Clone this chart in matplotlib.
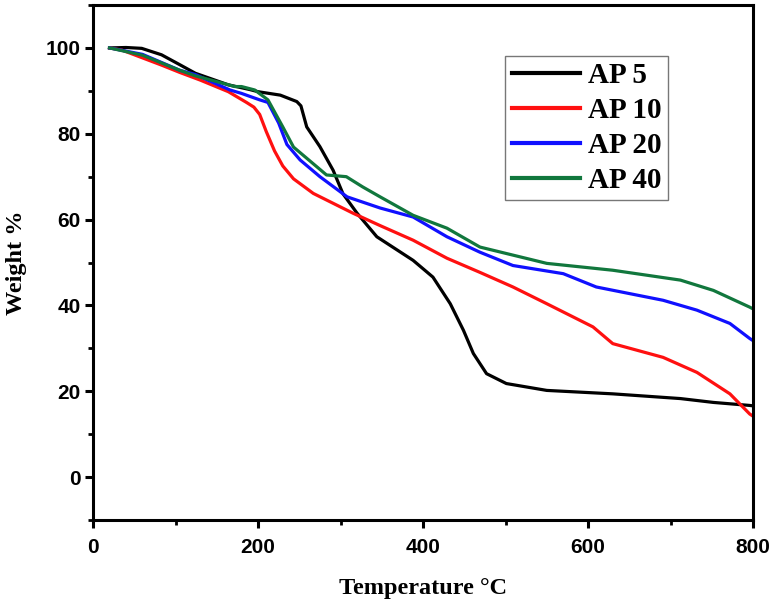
import matplotlib
matplotlib.use("Agg")
import matplotlib.pyplot as plt
from matplotlib.ticker import MultipleLocator

# ---- data ----
ap5_x = [20, 40, 59, 83, 106, 124, 164, 190, 200, 227, 247, 252, 259, 275, 291, 303, 320, 344,
         388, 412, 433, 449, 461, 477, 501, 550, 630, 712, 752, 796, 800]
ap5_y = [100, 100.1, 99.9, 98.4, 96.0, 94.1, 91.4, 90.3, 89.8, 89.0, 87.5, 86.5, 81.6, 77.0, 71.5, 66.0, 61.5, 56.0,
         50.5, 46.6, 40.4, 34.2, 28.8, 24.1, 21.8, 20.2, 19.4, 18.3, 17.4, 16.7, 16.6]

ap10_x = [20, 35, 83, 105, 130, 164, 186, 195, 202, 210, 220, 230, 243, 267, 315, 348, 388, 429,
          469, 509, 550, 606, 630, 691, 732, 772, 796, 800]
ap10_y = [100, 99.5, 96.0, 94.3, 92.5, 89.8, 87.3, 86.2, 84.5, 80.5, 76.0, 72.5, 69.5, 66.1, 61.5, 58.6, 55.2, 51.0,
          47.7, 44.3, 40.4, 35.0, 31.1, 27.9, 24.4, 19.4, 14.7, 14.2]

ap20_x = [20, 60, 105, 124, 166, 180, 202, 212, 225, 235, 251, 275, 308, 348, 388, 429, 469, 509,
          570, 610, 691, 732, 772, 796, 800]
ap20_y = [100, 98.5, 94.8, 93.8, 90.2, 89.4, 87.9, 87.3, 82.5, 77.5, 73.9, 70.0, 65.3, 62.7, 60.6, 56.0, 52.4, 49.3,
          47.4, 44.3, 41.2, 38.9, 35.8, 32.3, 31.8]

ap40_x = [20, 60, 105, 124, 172, 180, 196, 212, 230, 243, 283, 307, 327, 348, 388, 429, 469, 550,
          630, 712, 752, 796, 800]
ap40_y = [100, 98.3, 94.8, 93.5, 91.0, 91.0, 90.2, 87.9, 81.6, 76.9, 70.4, 70.0, 67.6, 65.3, 61.0, 58.0, 53.6, 49.8,
          48.2, 45.9, 43.5, 39.6, 39.2]

labels = ["AP 5", "AP 10", "AP 20", "AP 40"]
colors = ["#000000", "#ff1010", "#1010ff", "#11773d"]

x_ticks = [0, 200, 400, 600, 800]
y_ticks = [0, 20, 40, 60, 80, 100]

# ---- figure ----
fig = plt.figure(figsize=(7.74, 6.03), dpi=100)
ax = fig.add_axes([0.1202, 0.1376, 0.8527, 0.8541])

series = [(ap5_x, ap5_y), (ap10_x, ap10_y), (ap20_x, ap20_y), (ap40_x, ap40_y)]
for (xs, ys), lab, col in zip(series, labels, colors):
    ax.plot(xs, ys, color=col, lw=2.3, label=lab, solid_joinstyle="round")

ax.set_xlim(0, 800)
ax.set_ylim(-10, 110)
ax.set_xticks(x_ticks)
ax.set_yticks(y_ticks)
ax.xaxis.set_minor_locator(MultipleLocator(100))
ax.yaxis.set_minor_locator(MultipleLocator(10))

for s in ax.spines.values():
    s.set_linewidth(2.2)

ax.tick_params(axis="both", which="major", direction="out", length=6, width=2.2,
               top=False, right=False)
ax.tick_params(axis="both", which="minor", direction="out", length=3.5, width=2.0,
               top=False, right=False)
for lab in ax.get_xticklabels() + ax.get_yticklabels():
    lab.set_fontfamily("Liberation Sans")
    lab.set_fontweight("bold")
    lab.set_fontsize(15)
ax.tick_params(axis="x", pad=7)
ax.tick_params(axis="y", pad=3)

ax.set_xlabel("Temperature °C", fontfamily="Liberation Serif", fontweight="bold",
              fontsize=17.5, labelpad=15)
ax.set_ylabel("Weight %", fontfamily="Liberation Serif", fontweight="bold",
              fontsize=17.5, labelpad=13)

leg = ax.legend(loc="upper left", bbox_to_anchor=(0.6247, 0.901),
                prop={"family": "Liberation Serif", "weight": "bold", "size": 21},
                frameon=True, fancybox=False, borderpad=0.22, labelspacing=0.27,
                handlelength=2.35, handletextpad=0.25, borderaxespad=0.0)
leg.get_frame().set_edgecolor("#555555")
leg.get_frame().set_linewidth(1.0)
for h in leg.get_lines():
    h.set_linewidth(3.0)

fig.savefig("out.png", dpi=100)
